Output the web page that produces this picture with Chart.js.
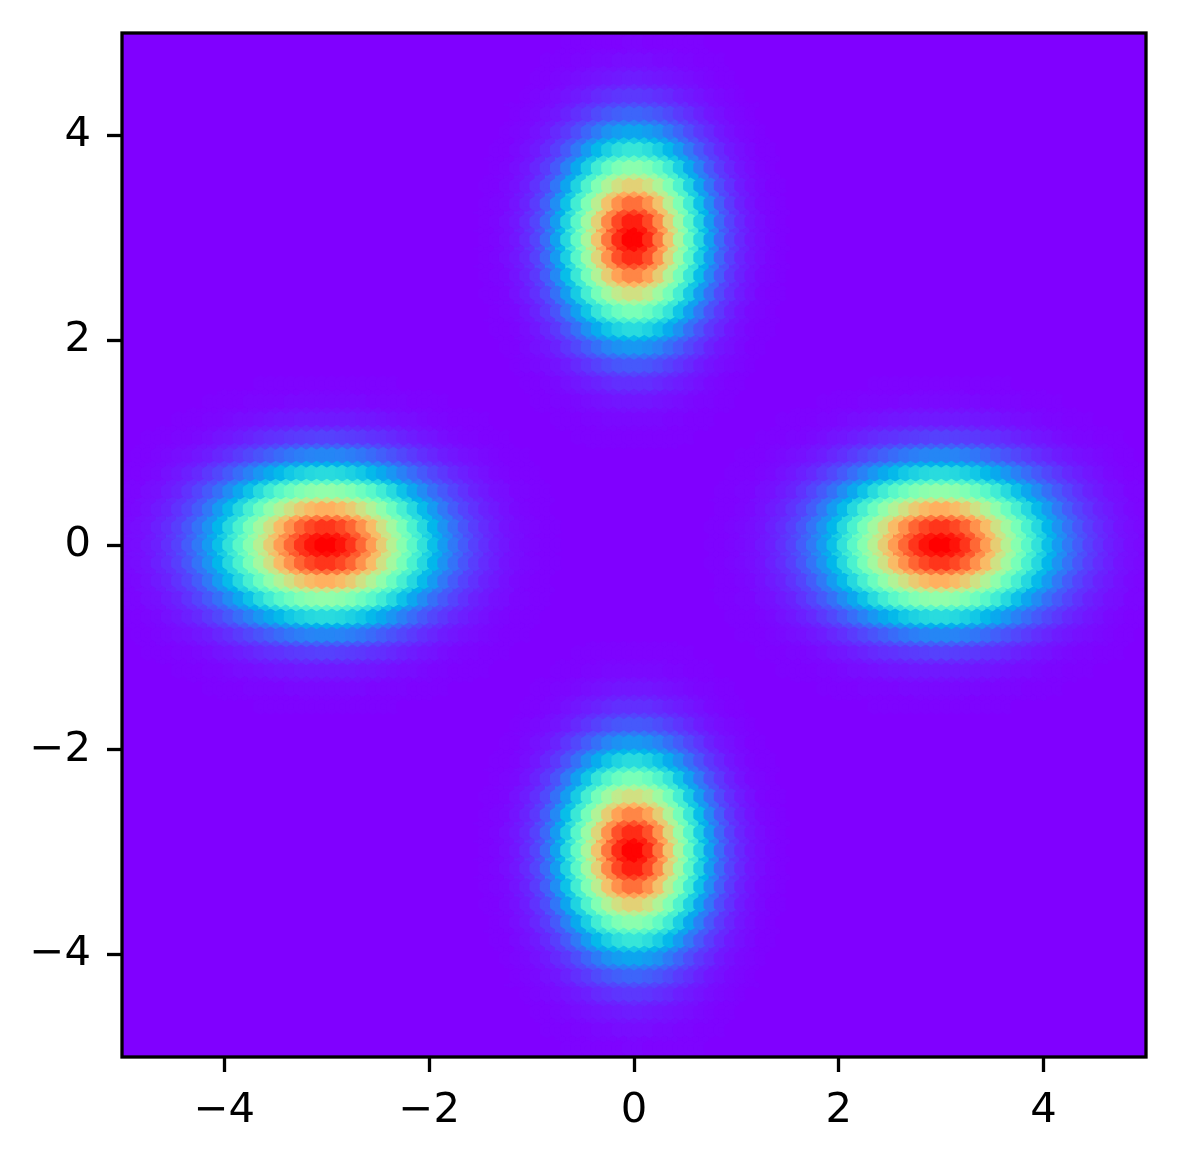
<!DOCTYPE html>
<html>
<head>
<meta charset="utf-8">
<title>Hexbin</title>
<script src="https://cdn.jsdelivr.net/npm/chart.js@4.4.1/dist/chart.umd.min.js"></script>
<style>
    html, body { margin: 0; padding: 0; background: #fff; }
    #wrap { width: 1178px; height: 1159px; }
</style>
</head>
<body>
<div id="wrap"><canvas id="chartHex" width="1178" height="1159"></canvas></div>
<script>
// ── Values ───────────────────────────────
// four blobs: centre, spread along x / y, peak level
const blobX    = [0, 0, -3, 3];
const blobY    = [3, -3, 0, 0];
const blobSx   = [0.43, 0.43, 0.65, 0.65];
const blobSy   = [0.60, 0.60, 0.47, 0.47];
const blobPeak = [1, 1, 1, 1];

const xTicks   = [-4, -2, 0, 2, 4];
const yTicks   = [-4, -2, 0, 2, 4];
const axisMin  = -5;
const axisMax  = 5;
const gridSize = 100;   // hexagons across

// ── Hex lattice (same layout as matplotlib hexbin) ──
const nx = gridSize;
const ny = Math.floor(nx / Math.sqrt(3));
const cellW = (axisMax - axisMin) / nx;
const cellH = (axisMax - axisMin) / ny;

function level(x, y) {
    let v = 0;
    for (let k = 0; k < blobX.length; k++) {
        const dx = (x - blobX[k]) / blobSx[k];
        const dy = (y - blobY[k]) / blobSy[k];
        v += blobPeak[k] * Math.exp(-0.5 * (dx * dx + dy * dy));
    }
    return v;
}

const cells = [];
for (let i = 0; i <= nx; i++) {
    for (let j = 0; j <= ny; j++) {
        const x = axisMin + i * cellW, y = axisMin + j * cellH;
        cells.push({ x: x, y: y, v: level(x, y) });
    }
}
for (let i = 0; i < nx; i++) {
    for (let j = 0; j < ny; j++) {
        const x = axisMin + (i + 0.5) * cellW, y = axisMin + (j + 0.5) * cellH;
        cells.push({ x: x, y: y, v: level(x, y) });
    }
}
const vMax = Math.max.apply(null, cells.map(function(c) { return c.v; }));

// ── 'rainbow' colour map ─────────────────
function clip01(a) { return Math.max(0, Math.min(1, a)); }
function rainbow(t) {
    t = Math.round(clip01(t) * 255) / 255;
    const r = clip01(Math.abs(2 * t - 0.5));
    const g = clip01(Math.sin(Math.PI * t));
    const b = clip01(Math.cos(Math.PI * t / 2));
    return 'rgb(' + Math.round(r * 255) + ',' + Math.round(g * 255) + ',' + Math.round(b * 255) + ')';
}

// ── Plugins ──────────────────────────────
const hexPlugin = {
    id: 'hexCells',
    afterDatasetsDraw(chart) {
        const ctx  = chart.ctx;
        const area = chart.chartArea;
        const xs = chart.scales.x, ys = chart.scales.y;
        const w = Math.abs(xs.getPixelForValue(axisMin + cellW) - xs.getPixelForValue(axisMin));
        const h = Math.abs(ys.getPixelForValue(axisMin + cellH) - ys.getPixelForValue(axisMin));
        const meta = chart.getDatasetMeta(0);
        const data = chart.data.datasets[0].data;

        ctx.save();
        ctx.beginPath();
        ctx.rect(area.left, area.top, area.right - area.left, area.bottom - area.top);
        ctx.clip();
        ctx.lineWidth = 4.2;
        ctx.lineJoin  = 'round';
        meta.data.forEach(function(pt, i) {
            const col = rainbow(data[i].v / vMax);
            ctx.fillStyle   = col;
            ctx.strokeStyle = col;
            ctx.beginPath();
            ctx.moveTo(pt.x + w / 2, pt.y - h / 6);
            ctx.lineTo(pt.x + w / 2, pt.y + h / 6);
            ctx.lineTo(pt.x,         pt.y + h / 3);
            ctx.lineTo(pt.x - w / 2, pt.y + h / 6);
            ctx.lineTo(pt.x - w / 2, pt.y - h / 6);
            ctx.lineTo(pt.x,         pt.y - h / 3);
            ctx.closePath();
            ctx.fill();
            ctx.stroke();
        });
        ctx.restore();
    }
};

const framePlugin = {
    id: 'frame',
    afterDraw(chart) {
        const a = chart.chartArea, ctx = chart.ctx;
        ctx.save();
        ctx.strokeStyle = '#000';
        ctx.lineWidth = 3.3;
        ctx.strokeRect(a.left, a.top, a.right - a.left, a.bottom - a.top);
        ctx.restore();
    }
};

function fmtTick(v) {
    return v < 0 ? '\u2212' + Math.abs(v) : String(v);
}

const tickFont = { family: "'DejaVu Sans', sans-serif", size: 41.7 };
const gridOpts = {
    display: true,
    drawOnChartArea: false,
    drawTicks: true,
    tickLength: 15,
    tickWidth: 3.3,
    tickColor: '#000',
    color: '#000'
};

new Chart(document.getElementById('chartHex'), {
    type: 'scatter',
    data: {
        datasets: [{
            data: cells,
            pointRadius: 0,
            pointHoverRadius: 0,
            showLine: false
        }]
    },
    options: {
        responsive: false,
        animation: false,
        devicePixelRatio: 1,
        events: [],
        layout: { padding: { top: 33, right: 32, left: 0, bottom: 0 } },
        plugins: { legend: { display: false }, tooltip: { enabled: false } },
        scales: {
            x: {
                type: 'linear',
                min: axisMin,
                max: axisMax,
                border: { display: false },
                grid: gridOpts,
                afterBuildTicks: function(axis) { axis.ticks = xTicks.map(function(v) { return { value: v }; }); },
                afterFit: function(axis) {
                    axis.height = 102;
                    axis.paddingLeft = 0;
                    axis.paddingRight = 0;
                },
                ticks: { font: tickFont, color: '#000', padding: 14, maxRotation: 0, callback: fmtTick }
            },
            y: {
                type: 'linear',
                min: axisMin,
                max: axisMax,
                border: { display: false },
                grid: gridOpts,
                afterBuildTicks: function(axis) { axis.ticks = yTicks.map(function(v) { return { value: v }; }); },
                afterFit: function(axis) {
                    axis.width = 122;
                    axis.paddingTop = 0;
                    axis.paddingBottom = 0;
                },
                ticks: { font: tickFont, color: '#000', padding: 16, callback: fmtTick }
            }
        }
    },
    plugins: [hexPlugin, framePlugin]
});
</script>
</body>
</html>
